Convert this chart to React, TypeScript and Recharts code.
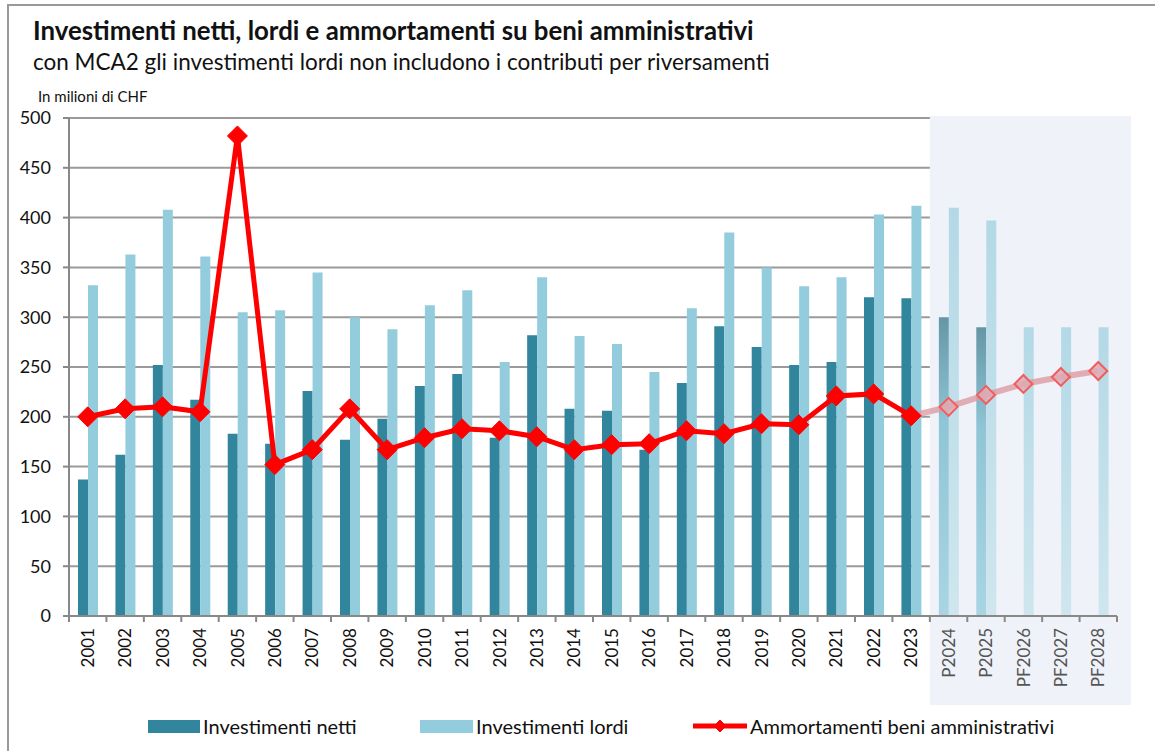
import React from "react";
import {
  ComposedChart,
  Bar,
  Line,
  Cell,
  XAxis,
  YAxis,
  CartesianGrid,
  ReferenceArea,
} from "recharts";

const anni = [
  "2001", "2002", "2003", "2004", "2005", "2006", "2007", "2008", "2009", "2010",
  "2011", "2012", "2013", "2014", "2015", "2016", "2017", "2018", "2019", "2020",
  "2021", "2022", "2023", "P2024", "P2025", "PF2026", "PF2027", "PF2028",
];

const investimentiNetti = [
  137, 162, 252, 217, 183, 173, 226, 177, 198, 231,
  243, 179, 282, 208, 206, 167, 234, 291, 270, 252,
  255, 320, 319, 300, 290, null, null, null,
];

const investimentiLordi = [
  332, 363, 408, 361, 305, 307, 345, 300, 288, 312,
  327, 255, 340, 281, 273, 245, 309, 385, 350, 331,
  340, 403, 412, 410, 397, 290, 290, 290,
];

const ammortamenti = [
  200, 208, 210, 205, 482, 152, 167, 208, 167, 179,
  188, 186, 180, 167, 172, 173, 186, 183, 193, 192,
  221, 223, 201, 210, 222, 233, 240, 246,
];

const yTicks = [0, 50, 100, 150, 200, 250, 300, 350, 400, 450, 500];

// first forecast index (P2024)
const FIRST_FORECAST = anni.indexOf("P2024");

const data = anni.map((anno, i) => ({
  anno,
  netti: investimentiNetti[i],
  lordi: investimentiLordi[i],
  amm: i < FIRST_FORECAST ? ammortamenti[i] : null,
  ammPrev: i >= FIRST_FORECAST - 1 ? ammortamenti[i] : null,
}));

const W = 1155;
const H = 751;
const MARGIN = { top: 118, right: 38, bottom: 45, left: 9 };
const Y_WIDTH = 60;
const X_HEIGHT = 90;
const STEP = (W - MARGIN.left - MARGIN.right - Y_WIDTH) / anni.length;

const FONT = "Lato, 'Open Sans', sans-serif";
const NETTI = "#31859c";
const LORDI = "#93cddd";
const GRID = "#9a9a9a";

const Diamond = ({ cx, cy, fill, stroke, sw, r }: any) => (
  <polygon
    points={`${cx},${cy - r} ${cx + r},${cy} ${cx},${cy + r} ${cx - r},${cy}`}
    fill={fill}
    stroke={stroke}
    strokeWidth={sw}
  />
);

const renderDot = (props: any) => {
  const { cx, cy, index } = props;
  if (cx == null || cy == null) return <g key={`d${index}`} />;
  return (
    <g key={`d${index}`}>
      <Diamond cx={cx} cy={cy} r={10} fill="#ff0000" stroke="#ff0000" sw={1} />
    </g>
  );
};

const renderPrevDot = (props: any) => {
  const { cx, cy, index } = props;
  if (cx == null || cy == null || index < FIRST_FORECAST) return <g key={`p${index}`} />;
  return (
    <g key={`p${index}`}>
      <Diamond cx={cx} cy={cy} r={9} fill="rgba(222,170,180,0.85)" stroke="#f25c5c" sw={2} />
    </g>
  );
};

const XTick = (props: any) => {
  const { x, y, payload, index } = props;
  const forecast = index >= FIRST_FORECAST;
  const ty = y + 6;
  const left = x - STEP / 2;
  return (
    <g>
      <line x1={left} x2={left} y1={y - 6} y2={y} stroke="#888" strokeWidth={2} />
      {index === anni.length - 1 && (
        <line x1={x + STEP / 2} x2={x + STEP / 2} y1={y - 6} y2={y} stroke="#888" strokeWidth={2} />
      )}
      <text
        x={x}
        y={ty}
        transform={`rotate(-90 ${x} ${ty})`}
        textAnchor="end"
        dy="0.36em"
        fontSize={17}
        fontFamily={FONT}
        fill={forecast ? "#555" : "#111"}
      >
        {payload.value}
      </text>
    </g>
  );
};

const ShadedArea = (props: any) => {
  const { x, y, width, height } = props;
  return <rect x={x} y={y - 2} width={width + 14} height={height + 91} fill="#eff2f8" />;
};

const LegendItem = ({ children, swatch }: any) => (
  <div style={{ display: "flex", alignItems: "center" }}>
    {swatch}
    <span style={{ marginLeft: 3 }}>{children}</span>
  </div>
);

export default function App() {
  return (
    <div
      style={{
        position: "absolute",
        left: 0,
        top: 0,
        width: W,
        height: H,
        background: "#fff",
        overflow: "hidden",
        fontFamily: FONT,
        color: "#111",
      }}
    >
      <div
        style={{
          position: "absolute",
          left: 7,
          top: 4,
          right: 0,
          bottom: 0,
          borderLeft: "2px solid #999",
          borderTop: "2px solid #999",
        }}
      />
      <ComposedChart
        width={W}
        height={H}
        data={data}
        margin={MARGIN}
        barSize={10}
        barGap={0}
        style={{ position: "absolute", left: 0, top: 0 }}
      >
        <defs>
          <linearGradient id="nettiPrev" x1="0" y1="0" x2="0" y2="1">
            <stop offset="0%" stopColor="#6596a6" />
            <stop offset="35%" stopColor="#8fc5d6" />
            <stop offset="100%" stopColor="#a9d5e3" />
          </linearGradient>
          <linearGradient id="lordiPrev" x1="0" y1="0" x2="0" y2="1">
            <stop offset="0%" stopColor="#b3d9e6" />
            <stop offset="100%" stopColor="#cfe6ee" />
          </linearGradient>
        </defs>
        <ReferenceArea
          x1="P2024"
          x2="PF2028"
          y1={0}
          y2={500}
          ifOverflow="visible"
          shape={ShadedArea}
        />
        <CartesianGrid vertical={false} stroke={GRID} strokeWidth={2} />
        <XAxis
          dataKey="anno"
          height={X_HEIGHT}
          interval={0}
          axisLine={{ stroke: "#888", strokeWidth: 2 }}
          tickLine={false}
          tickSize={6}
          tickMargin={0}
          tick={<XTick />}
        />
        <YAxis
          width={Y_WIDTH}
          domain={[0, 500]}
          ticks={yTicks}
          interval={0}
          axisLine={{ stroke: "#888", strokeWidth: 2 }}
          tickLine={{ stroke: "#888", strokeWidth: 2 }}
          tickSize={6}
          tickMargin={12}
          tick={{ fontSize: 18, fill: "#111", fontFamily: FONT }}
        />
        <Bar dataKey="netti" fill={NETTI} isAnimationActive={false}>
          {data.map((d, i) => (
            <Cell key={`n${i}`} fill={i >= FIRST_FORECAST ? "url(#nettiPrev)" : NETTI} />
          ))}
        </Bar>
        <Bar dataKey="lordi" fill={LORDI} isAnimationActive={false}>
          {data.map((d, i) => (
            <Cell key={`l${i}`} fill={i >= FIRST_FORECAST ? "url(#lordiPrev)" : LORDI} />
          ))}
        </Bar>
        <Line
          dataKey="ammPrev"
          stroke="rgba(220,150,158,0.75)"
          strokeWidth={6}
          dot={renderPrevDot}
          activeDot={false}
          connectNulls={false}
          isAnimationActive={false}
        />
        <Line
          dataKey="amm"
          stroke="#ff0000"
          strokeWidth={5}
          dot={renderDot}
          activeDot={false}
          isAnimationActive={false}
        />
      </ComposedChart>

      <div style={{ position: "absolute", left: 33, top: 15, fontSize: 25.8, fontWeight: 700, whiteSpace: "nowrap" }}>
        Investimenti netti, lordi e ammortamenti su beni amministrativi
      </div>
      <div style={{ position: "absolute", left: 33, top: 48, fontSize: 22.5, whiteSpace: "nowrap" }}>
        con MCA2 gli investimenti lordi non includono i contributi per riversamenti
      </div>
      <div style={{ position: "absolute", left: 38, top: 87, fontSize: 15 }}>
        In milioni di CHF
      </div>

      <div
        style={{
          position: "absolute",
          top: 714,
          left: 148,
          display: "flex",
          fontSize: 20,
          whiteSpace: "nowrap",
        }}
      >
        <div style={{ width: 272 }}>
          <LegendItem swatch={<div style={{ width: 52, height: 13, background: NETTI }} />}>
            Investimenti netti
          </LegendItem>
        </div>
        <div style={{ width: 273 }}>
          <LegendItem swatch={<div style={{ width: 53, height: 13, background: LORDI }} />}>
            Investimenti lordi
          </LegendItem>
        </div>
        <LegendItem
          swatch={
            <svg width={54} height={20}>
              <line x1={0} x2={54} y1={10} y2={10} stroke="#ff0000" strokeWidth={5} />
              <Diamond cx={27} cy={10} r={6} fill="#ff0000" stroke="#ff0000" sw={1} />
            </svg>
          }
        >
          Ammortamenti beni amministrativi
        </LegendItem>
      </div>
    </div>
  );
}
